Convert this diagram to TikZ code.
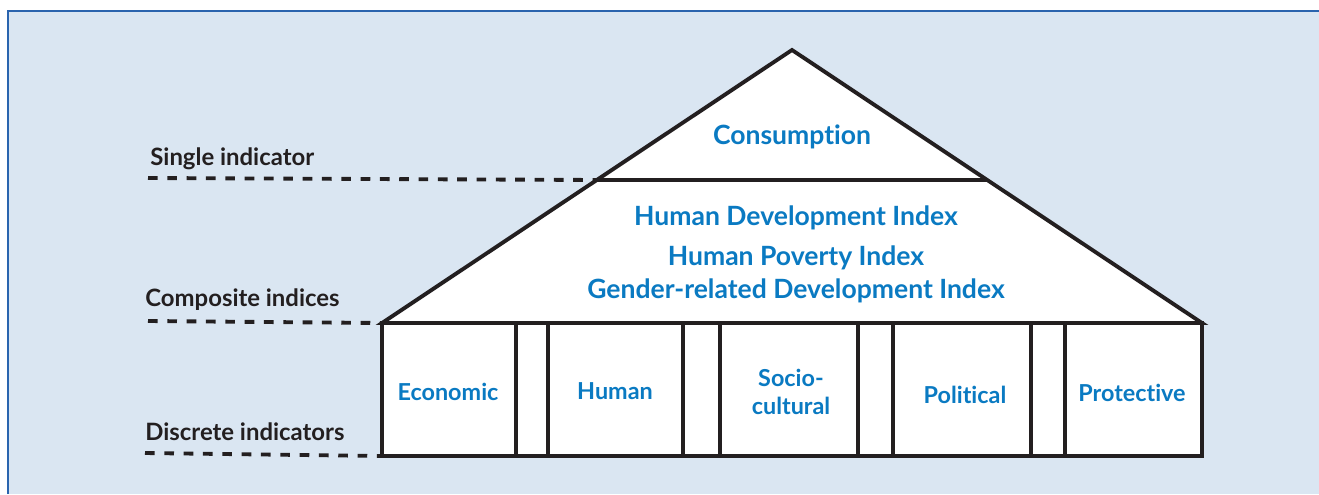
\documentclass[tikz,border=0pt]{standalone}
\usepackage{fontspec}
\setmainfont{Lato}[Ligatures={NoCommon}]
\usetikzlibrary{calc}

\definecolor{panelblue}{HTML}{DAE6F2}
\definecolor{frameblue}{HTML}{2A64AE}
\definecolor{textblue}{HTML}{0A7AC2}
\definecolor{inkblack}{HTML}{231F20}

\tikzset{
  house/.style={draw=inkblack,line width=2.2pt,line join=miter},
  leader/.style={inkblack,line width=2.2pt,dash pattern=on 5.5pt off 5.5pt},
  levellabel/.style={text=inkblack,font=\fontsize{13.6}{15}\selectfont\bfseries,anchor=west,inner sep=0pt},
  indexlabel/.style={text=textblue,font=\fontsize{15.1}{17}\selectfont\bfseries,inner sep=0pt},
  pillarlabel/.style={text=textblue,font=\fontsize{13.3}{15.5}\selectfont\bfseries,align=center,inner sep=0pt}
}

\begin{document}
\begin{tikzpicture}[x=0.02cm,y=-0.02cm]
    \useasboundingbox (0,0) rectangle (1319,494);
    \fill[panelblue] (8,11) rectangle (1319,494);
    \draw[frameblue,line width=1.1pt] (8,494)--(8,11)--(1319,11);
    % house outline
    \coordinate (apex) at (792,50);
    \coordinate (eaveL) at (382,323);
    \coordinate (eaveR) at (1202,323);
    \coordinate (baseL) at (382,456);
    \coordinate (baseR) at (1202,456);
    \coordinate (midL) at ($(apex)!130/273!(eaveL)$);
    \coordinate (midR) at ($(apex)!130/273!(eaveR)$);
    \fill[white] (apex)--(eaveR)--(baseR)--(baseL)--(eaveL)--cycle;
    \draw[house] (eaveL)--(apex)--(eaveR)--cycle;
    \draw[house] (midL)--(midR);
    \draw[house] (eaveL) rectangle (baseR);
    \foreach \x in {516,548,683,720,858,893,1031,1065}
        \draw[house] (\x,323)--(\x,456);
    % levels
    \node[levellabel] (single) at (150,159) {Single indicator};
    \node[levellabel] (composite) at (145,300) {Composite indices};
    \node[levellabel] (discrete) at (145,432) {Discrete indicators};
    \coordinate (singleEnd) at (148,178);
    \coordinate (compositeEnd) at (148,321);
    \coordinate (discreteEnd) at (145,453);
    \draw[leader] (singleEnd)--(midL);
    \draw[leader] (compositeEnd)--(eaveL);
    \draw[leader] (discreteEnd)--(baseL);
    % texts
    \node[indexlabel] (consumption) at (792,137) {Consumption};
    \node[indexlabel] (hdi) at (796,218) {Human Development Index};
    \node[indexlabel] (hpi) at (796,258) {Human Poverty Index};
    \node[indexlabel] (gdi) at (796,291) {Gender-related Development Index};
    \node[pillarlabel] (economic) at (448,392) {Economic};
    \node[pillarlabel] (human) at (615,391) {Human};
    \node[pillarlabel] (socio) at (791,392) {Socio-\\cultural};
    \node[pillarlabel] (political) at (965,395) {Political};
    \node[pillarlabel] (protective) at (1132,393) {Protective};
\end{tikzpicture}
\end{document}
